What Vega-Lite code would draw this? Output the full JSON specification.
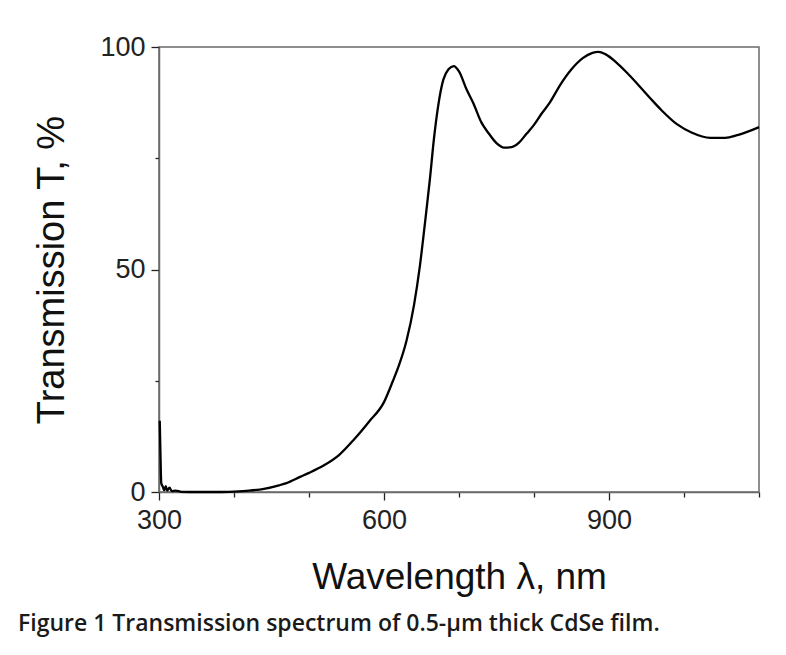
{
  "$schema": "https://vega.github.io/schema/vega-lite/v6.json",
  "autosize": "none",
  "width": 600,
  "height": 445,
  "padding": {"left": 159, "top": 47, "right": 27, "bottom": 163},
  "background": "white",
  "config": {
    "view": {"stroke": "#6a6a6a", "strokeWidth": 1.5},
    "axis": {"grid": false, "labelFlush": false, "labelOverlap": false, "labelFont": "Liberation Sans", "titleFont": "Liberation Sans", "labelColor": "#222", "titleColor": "#111", "domainColor": "#6a6a6a", "domainWidth": 1.5, "tickColor": "#222", "tickWidth": 1.3}
  },
  "title": {"text": "Figure 1 Transmission spectrum of 0.5-µm thick CdSe film.", "orient": "bottom", "anchor": "start", "frame": "group", "dx": -141, "offset": 18, "font": "Open Sans", "fontSize": 23, "fontWeight": 600, "color": "#1a1a1a"},
  "data": {"values": [
    {"w": 301, "t": 16}, {"w": 302, "t": 8}, {"w": 303, "t": 2}, {"w": 305, "t": 1.2}, {"w": 307, "t": 0.4}, {"w": 309, "t": 1.3}, {"w": 311, "t": 0.3}, {"w": 314, "t": 1.0}, {"w": 317, "t": 0.2}, {"w": 322, "t": 0.3}, {"w": 330, "t": 0.05}, {"w": 350, "t": 0}, {"w": 380, "t": 0}, {"w": 400, "t": 0.1}, {"w": 420, "t": 0.3}, {"w": 440, "t": 0.7}, {"w": 460, "t": 1.5}, {"w": 470, "t": 2}, {"w": 488, "t": 3.4}, {"w": 500, "t": 4.3}, {"w": 520, "t": 6}, {"w": 540, "t": 8.3}, {"w": 560, "t": 11.8}, {"w": 580, "t": 15.8}, {"w": 600, "t": 20.2}, {"w": 612, "t": 25}, {"w": 620, "t": 28.5}, {"w": 630, "t": 34}, {"w": 640, "t": 42}, {"w": 648, "t": 51}, {"w": 655, "t": 61}, {"w": 661, "t": 70}, {"w": 667, "t": 80}, {"w": 672, "t": 86.5}, {"w": 679, "t": 92.6}, {"w": 686, "t": 95}, {"w": 693, "t": 95.7}, {"w": 700, "t": 94.5}, {"w": 710, "t": 90.5}, {"w": 719, "t": 87.4}, {"w": 730, "t": 83}, {"w": 740, "t": 80.5}, {"w": 750, "t": 78.4}, {"w": 760, "t": 77.4}, {"w": 770, "t": 77.5}, {"w": 780, "t": 78.5}, {"w": 790, "t": 80.5}, {"w": 800, "t": 82.5}, {"w": 810, "t": 85}, {"w": 821, "t": 87.5}, {"w": 835, "t": 91.5}, {"w": 850, "t": 95}, {"w": 865, "t": 97.5}, {"w": 878, "t": 98.7}, {"w": 886, "t": 98.9}, {"w": 895, "t": 98.4}, {"w": 910, "t": 96.5}, {"w": 924, "t": 94.2}, {"w": 940, "t": 91.3}, {"w": 955, "t": 88.5}, {"w": 970, "t": 85.8}, {"w": 991, "t": 82.6}, {"w": 1010, "t": 80.8}, {"w": 1035, "t": 79.6}, {"w": 1055, "t": 79.6}, {"w": 1071, "t": 80.2}, {"w": 1085, "t": 81}, {"w": 1100, "t": 82}
  ]},
  "resolve": {"axis": {"x": "independent", "y": "independent"}},
  "layer": [
    {
      "mark": {"type": "line", "opacity": 0},
      "encoding": {
        "x": {"field": "w", "type": "quantitative", "scale": {"domain": [300, 1100], "nice": false, "zero": false}, "axis": {"orient": "bottom", "values": [400, 500, 700, 800, 1000, 1100], "labels": false, "tickSize": 5, "domain": false, "title": null}},
        "y": {"field": "t", "type": "quantitative", "scale": {"domain": [0, 100], "nice": false}, "axis": {"orient": "left", "values": [25, 75], "labels": false, "tickSize": 4, "domain": false, "title": null}}
      }
    },
    {
      "mark": {"type": "line", "color": "#000", "strokeWidth": 2.3, "interpolate": "monotone"},
      "encoding": {
        "x": {"field": "w", "type": "quantitative", "scale": {"domain": [300, 1100], "nice": false, "zero": false}, "axis": {"orient": "bottom", "values": [300, 600, 900], "tickSize": 8, "labelPadding": 7, "labelFontSize": 27, "title": "Wavelength λ, nm", "titleFontSize": 37, "titleFontWeight": "normal", "titlePadding": 26}},
        "y": {"field": "t", "type": "quantitative", "scale": {"domain": [0, 100], "nice": false}, "axis": {"orient": "left", "values": [0, 50, 100], "tickSize": 8, "labelPadding": 6, "labelFontSize": 27, "title": "Transmission T, %", "titleFontSize": 38, "titleFontWeight": "normal", "titlePadding": 28}}
      }
    }
  ]
}
